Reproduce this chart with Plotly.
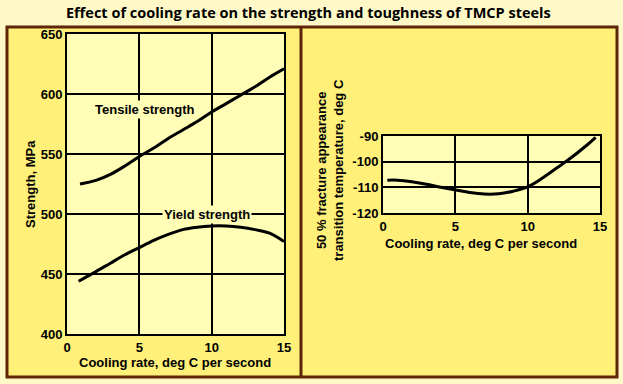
import plotly.graph_objects as go

W, H = 623, 384

# ---- data ----
cooling_rate = [0.9, 2, 3, 4, 5, 6, 7, 8, 9, 10, 11, 12, 13, 14, 15]
tensile = [525, 528, 533, 540, 548, 555, 563, 570, 577, 585, 592, 599, 606, 614, 621]
yield_cr = [0.8, 2, 3, 4, 5, 6, 7, 8, 9, 10, 11, 12, 13, 14, 15]
yield_strength = [444, 452, 459, 466, 472, 478, 483, 487, 489, 490, 490, 489, 487, 484, 477]
fatt_cr = [0.3, 1, 2, 3, 4, 5, 6, 7, 8, 9, 10, 11, 12, 13, 14, 14.7]
fatt = [-107.2, -107.2, -107.8, -108.8, -110, -111, -112, -112.6, -112.5, -111.5,
        -109.8, -106.5, -102.5, -98.5, -94, -90.5]
x_ticks = [0, 5, 10, 15]
strength_ticks = [400, 450, 500, 550, 600, 650]
temp_ticks = [-120, -110, -100, -90]
temp_tick_text = ["-120", "-110", "-100", "-90"]

OUTER = "#FFF9C8"
PANEL = "#FFF07A"
PLOTBG = "#FFFDB6"
BROWN = "#5E2608"
FONT = "Liberation Sans"

def px(x):
    return x / W

def py(y):
    return 1 - y / H

fig = go.Figure()
fig.add_trace(go.Scatter(x=cooling_rate, y=tensile, mode="lines", line=dict(color="black", width=3, shape="spline"),
                         xaxis="x", yaxis="y", showlegend=False, hoverinfo="skip"))
fig.add_trace(go.Scatter(x=yield_cr, y=yield_strength, mode="lines", line=dict(color="black", width=3, shape="spline"),
                         xaxis="x", yaxis="y", showlegend=False, hoverinfo="skip"))
fig.add_trace(go.Scatter(x=fatt_cr, y=fatt, mode="lines", line=dict(color="black", width=3, shape="spline"),
                         xaxis="x2", yaxis="y2", showlegend=False, hoverinfo="skip"))

tf = dict(family=FONT, size=13, color="black", weight="bold")
axcommon = dict(showgrid=True, gridcolor="black", gridwidth=2, showline=True, linecolor="black", linewidth=2,
                mirror=True, zeroline=False, ticks="", tickfont=tf, automargin=False)

lab = dict(family=FONT, size=13, color="black")

def ann(text, x, y, **kw):
    d = dict(text=text, xref="paper", yref="paper", x=px(x), y=py(y), showarrow=False,
             xanchor="center", yanchor="middle", font=lab)
    d.update(kw)
    return d

fig.update_layout(
    width=W, height=H,
    margin=dict(l=0, r=0, t=0, b=0),
    paper_bgcolor=OUTER,
    plot_bgcolor="rgba(0,0,0,0)",
    xaxis=dict(domain=[px(67), px(284)], range=[0, 15], tickvals=x_ticks, anchor="y", ticklabelstandoff=0, **axcommon),
    yaxis=dict(domain=[py(334), py(34)], range=[400, 650], tickvals=strength_ticks, anchor="x", **axcommon),
    xaxis2=dict(domain=[px(383), px(600)], range=[0, 15], tickvals=x_ticks, anchor="y2", ticklabelstandoff=0, **axcommon),
    yaxis2=dict(domain=[py(213), py(136)], range=[-120, -90], tickvals=temp_ticks, ticktext=temp_tick_text,
                anchor="x2", **axcommon),
    shapes=[
        dict(type="rect", xref="paper", yref="paper", x0=px(7), x1=px(617), y0=py(377), y1=py(27),
             fillcolor=PANEL, line=dict(color=BROWN, width=3), layer="below"),
        dict(type="line", xref="paper", yref="paper", x0=px(301), x1=px(301), y0=py(377), y1=py(27),
             line=dict(color=BROWN, width=3), layer="below"),
        dict(type="rect", xref="x domain", yref="y domain", x0=0, x1=1, y0=0, y1=1,
             fillcolor=PLOTBG, line=dict(width=0), layer="below"),
        dict(type="rect", xref="x2 domain", yref="y2 domain", x0=0, x1=1, y0=0, y1=1,
             fillcolor=PLOTBG, line=dict(width=0), layer="below"),
    ],
    annotations=[
        ann("<b>Effect of cooling rate on the strength and toughness of TMCP steels</b>", 308, 12,
            font=dict(family="Open Sans", size=14.5, color="black")),
        dict(text="<b>Tensile strength</b>", xref="x", yref="y", x=5.4, y=587, showarrow=False,
             xanchor="center", yanchor="middle", font=lab, bgcolor=PLOTBG),
        dict(text="<b>Yield strength</b>", xref="x", yref="y", x=9.7, y=500, showarrow=False,
             xanchor="center", yanchor="middle", font=lab, bgcolor=PLOTBG),
        ann("<b>Strength, MPa</b>", 30, 184, textangle=-90),
        ann("<b>Cooling rate, deg C per second</b>", 175, 362),
        ann("<b>Cooling rate, deg C per second</b>", 481, 243),
        ann("<b>50 % fracture appearance<br>transition temperature, deg C</b>", 330, 170, textangle=-90),
    ],
)

fig.write_html("out.html", config={"displayModeBar": False, "staticPlot": True},
               post_script="document.body.style.margin='0';document.body.style.padding='0';")
